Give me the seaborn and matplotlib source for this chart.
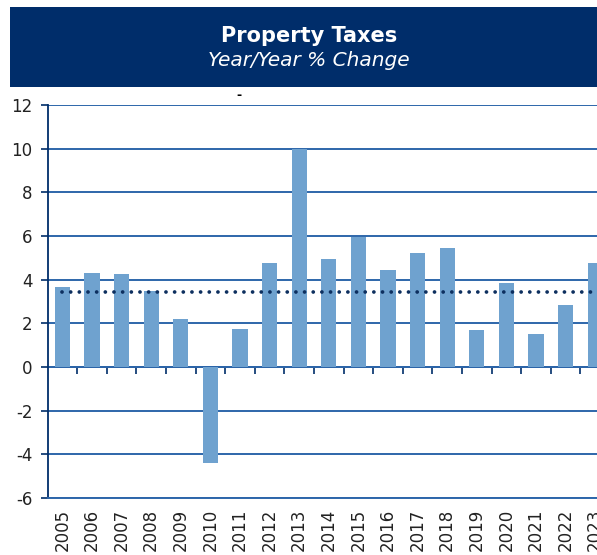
import matplotlib
matplotlib.use("Agg")
import matplotlib.pyplot as plt
from matplotlib.patches import Rectangle
import seaborn as sns
import numpy as np
import pandas as pd

# ---- data ----
years = ["2005", "2006", "2007", "2008", "2009", "2010", "2011", "2012", "2013", "2014",
         "2015", "2016", "2017", "2018", "2019", "2020", "2021", "2022", "2023"]
pct_change = [3.65, 4.3, 4.25, 3.5, 2.2, -4.4, 1.75, 4.75, 10.0, 4.95,
              5.95, 4.45, 5.2, 5.45, 1.7, 3.85, 1.5, 2.85, 4.75]
average_value = 3.45
y_ticks = [-6, -4, -2, 0, 2, 4, 6, 8, 10, 12]
title_text = "Property Taxes"
subtitle_text = "Year/Year % Change"

# ---- style ----
sns.set_theme(style="white")
plt.rcParams["font.family"] = ["DejaVu Sans"]

NAVY = "#002d6a"
GRID = "#2d66aa"
BAR = "#6fa2cf"
DOT = "#0d2f5f"
TXT = "#222222"

W, H = 597, 555
fig = plt.figure(figsize=(W / 100, H / 100), dpi=100)

# axes geometry (pixels)
left_px, right_px = 47.6, 610.0
top_px, bottom_px = 105.0, 498.0
ax = fig.add_axes([left_px / W, 1 - bottom_px / H,
                   (right_px - left_px) / W, (bottom_px - top_px) / H])

df = pd.DataFrame({"year": years, "pct": pct_change})
df["pos"] = np.arange(len(years))

# gridlines behind
ax.set_axisbelow(True)
ax.yaxis.grid(True, color=GRID, linewidth=1.4)
ax.xaxis.grid(False)

sns.barplot(data=df, x="year", y="pct", color=BAR, width=0.51,
            saturation=1, ax=ax, zorder=2, edgecolor="none")

avg_df = pd.DataFrame({"pos": df["pos"], "avg": [average_value] * len(years)})
sns.lineplot(data=avg_df, x="pos", y="avg", ax=ax, color=DOT, linewidth=2.7,
             linestyle=(0, (0.01, 2.3)), dash_capstyle="round", zorder=3)

ax.set_xlim(-0.5, len(years) - 0.5)
ax.set_ylim(-6, 12)
ax.set_yticks(y_ticks)
ax.set_yticklabels([str(t) for t in y_ticks])
ax.set_xlabel("")
ax.set_ylabel("")

for s in ["top", "right"]:
    ax.spines[s].set_visible(False)
ax.spines["left"].set_color(NAVY)
ax.spines["left"].set_linewidth(1.3)
ax.spines["bottom"].set_color(GRID)
ax.spines["bottom"].set_linewidth(1.4)

ax.tick_params(axis="y", which="major", direction="out", length=5, width=1.2,
               color=NAVY, labelsize=12, labelcolor=TXT, pad=6, left=True)
ax.tick_params(axis="x", which="major", length=0, labelsize=12,
               labelcolor=TXT, pad=8, labelrotation=90)

# zero axis line with ticks between categories
sec = ax.secondary_xaxis(0, transform=ax.transData)
sec.spines["bottom"].set_color(NAVY)
sec.spines["bottom"].set_linewidth(1.4)
sec.set_xticks(np.arange(0.5, len(years) - 0.5, 1.0))
sec.tick_params(axis="x", direction="out", length=5, width=1.2, color=NAVY,
                labelbottom=False)

# title box
fig.patches.append(Rectangle((10 / W, 1 - 87 / H), (608 - 10) / W, (87 - 7) / H,
                             transform=fig.transFigure, facecolor=NAVY,
                             edgecolor="none", zorder=0))
cx = 309 / W
fig.text(cx, 1 - 36 / H, title_text, color="white", fontsize=15,
         fontweight="bold", ha="center", va="center")
fig.text(cx, 1 - 60 / H, subtitle_text, color="white", fontsize=14.5,
         fontstyle="italic", ha="center", va="center")
# stray marker above plot
fig.text(239 / W, 1 - 95 / H, "-", color="black", fontsize=9, fontweight="bold",
         ha="center", va="center")

fig.savefig("out.png", dpi=100)
